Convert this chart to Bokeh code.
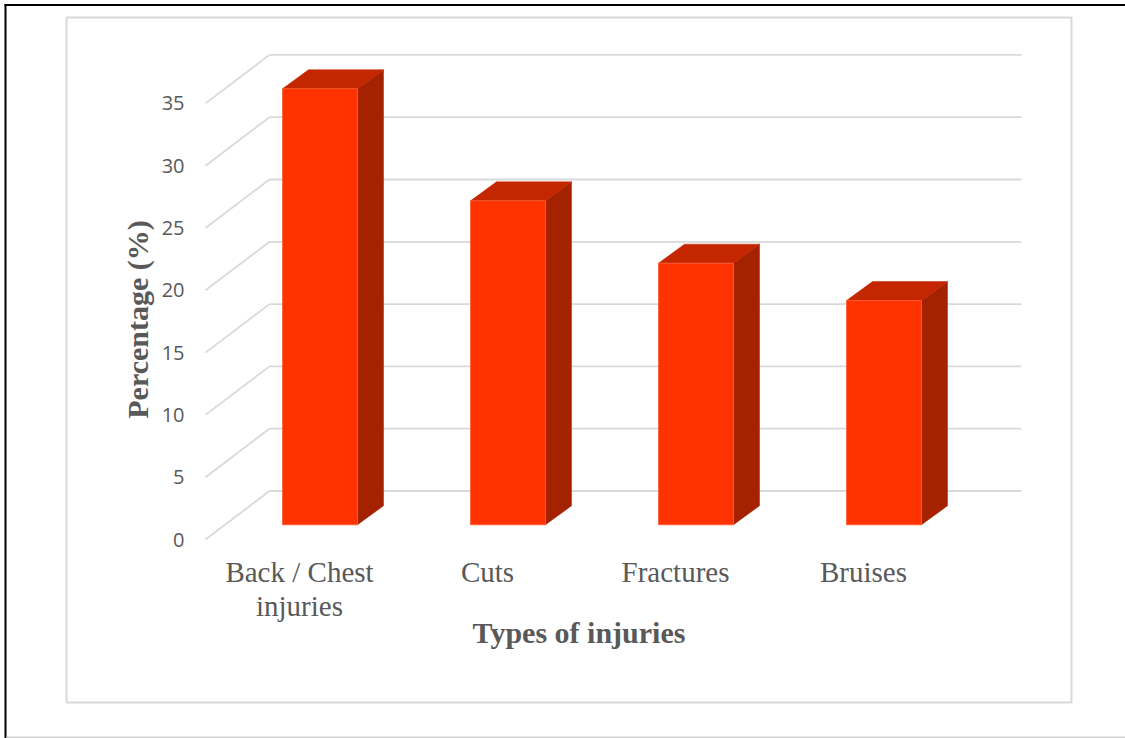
import math
from bokeh.plotting import figure
from bokeh.models import Range1d, BoxAnnotation, Label
from bokeh.core.properties import value
from bokeh.embed import file_html
from bokeh.resources import INLINE

# ---------------- data ----------------
categories = ["Back / Chest injuries", "Cuts", "Fractures", "Bruises"]
category_labels = ["Back / Chest\ninjuries", "Cuts", "Fractures", "Bruises"]
values = [35, 26, 21, 18]
y_ticks = [0, 5, 10, 15, 20, 25, 30, 35]
y_tick_labels = ["0", "5", "10", "15", "20", "25", "30", "35"]
y_title = "Percentage (%)"
x_title = "Types of injuries"

# ---------------- geometry (page pixels -> data) ----------------
PX_X = 188.0         # px per category
PX_Y = 12.46         # px per percentage unit
X0_PAGE = 205.0      # page x of data x = 0 (front plane)
Y0_PAGE = 539.0      # page y of data y = 0 (front plane)


def px_x(px):
    return px / PX_X


def px_y(px):
    return px / PX_Y


def page_x(px):
    return (px - X0_PAGE) / PX_X


def page_y(py):
    return (Y0_PAGE - py) / PX_Y


W, H = 1125, 738

p = figure(width=W, height=H, output_backend="svg", toolbar_location=None,
           x_range=Range1d(page_x(0), page_x(W)),
           y_range=Range1d(page_y(H), page_y(0)),
           x_axis_type=None, y_axis_type=None, min_border=0)
p.outline_line_color = None
p.grid.visible = False
p.background_fill_color = "white"
p.border_fill_color = "white"

TEXT_COLOR = "#595959"
GRID_COLOR = "#D9D9D9"


def band(l, r, t, b, color):
    p.add_layout(BoxAnnotation(left=page_x(l), right=page_x(r), top=page_y(t), bottom=page_y(b),
                               fill_color=color, fill_alpha=1, line_color=None, level="underlay"))


# ---- outer frame (left, top black; bottom light grey) ----
band(4, 6, 3.5, 738, "black")
band(4, 1125, 3.5, 5.5, "black")
band(6, 1125, 736, 737.5, "#CFCFCF")

# ---- chart-area border ----
p.add_layout(BoxAnnotation(left=page_x(66), right=page_x(1071), top=page_y(17), bottom=page_y(702),
                           fill_alpha=0, line_color=GRID_COLOR, line_alpha=1, line_width=2,
                           level="underlay"))

# ---- back wall gridlines + depth diagonals ----
BACK_DX = px_x(64)
BACK_DY = px_y(48.5)
back_right = page_x(1021)
n = len(y_ticks)
p.segment(x0=[BACK_DX] * n, y0=[t + BACK_DY for t in y_ticks],
          x1=[back_right] * n, y1=[t + BACK_DY for t in y_ticks],
          line_color=GRID_COLOR, line_width=1.8)
p.segment(x0=[0] * n, y0=y_ticks, x1=[BACK_DX] * n, y1=[t + BACK_DY for t in y_ticks],
          line_color=GRID_COLOR, line_width=1.8)

# ---- y tick labels (front plane) ----
p.text(x=[page_x(184)] * n, y=y_ticks, text=y_tick_labels,
       text_align="right", text_baseline="middle",
       text_font=value("Open Sans"), text_font_size="20px", text_color=TEXT_COLOR)

# ---- category labels ----
xt = [i + 0.5 for i in range(len(categories))]
p.text(x=xt, y=[page_y(555)] * len(xt), text=category_labels,
       text_align="center", text_baseline="top", text_line_height=1.09,
       text_font=value("Liberation Serif"), text_font_size="29px", text_color=TEXT_COLOR)

# ---- 3D bars ----
BW = px_x(75)
F_DX = px_x(20.5)
F_DY = px_y(14.7)
S_DX = px_x(26)
S_DY = px_y(19)

lefts, rights, bottoms, tops = [], [], [], []
side_xs, side_ys, top_xs, top_ys = [], [], [], []
for i, v in enumerate(values):
    L = i + 0.5 - BW / 2 + F_DX
    R = L + BW
    B = F_DY
    T = F_DY + v
    lefts.append(L); rights.append(R); bottoms.append(B); tops.append(T)
    side_xs.append([R, R + S_DX, R + S_DX, R])
    side_ys.append([B, B + S_DY, T + S_DY, T])
    top_xs.append([L, R, R + S_DX, L + S_DX])
    top_ys.append([T, T, T + S_DY, T + S_DY])

p.patches(side_xs, side_ys, fill_color="#A52200", line_color="#A52200", line_width=0.5)
p.patches(top_xs, top_ys, fill_color="#C42700", line_color="#C42700", line_width=0.5)
p.quad(left=lefts, right=rights, bottom=bottoms, top=tops,
       fill_color="#FF3300", line_color="#FF5A30", line_width=0.8)

# ---- axis titles ----
p.add_layout(Label(x=page_x(137), y=page_y(319), text=y_title, angle=math.pi / 2,
                   text_align="center", text_baseline="middle",
                   text_font="Liberation Serif", text_font_style="bold",
                   text_font_size="30px", text_color=TEXT_COLOR))
p.add_layout(Label(x=page_x(578.5), y=page_y(632), text=x_title,
                   text_align="center", text_baseline="alphabetic",
                   text_font="Liberation Serif", text_font_style="bold",
                   text_font_size="30px", text_color=TEXT_COLOR))

open("out.html", "w").write(file_html(p, INLINE))
